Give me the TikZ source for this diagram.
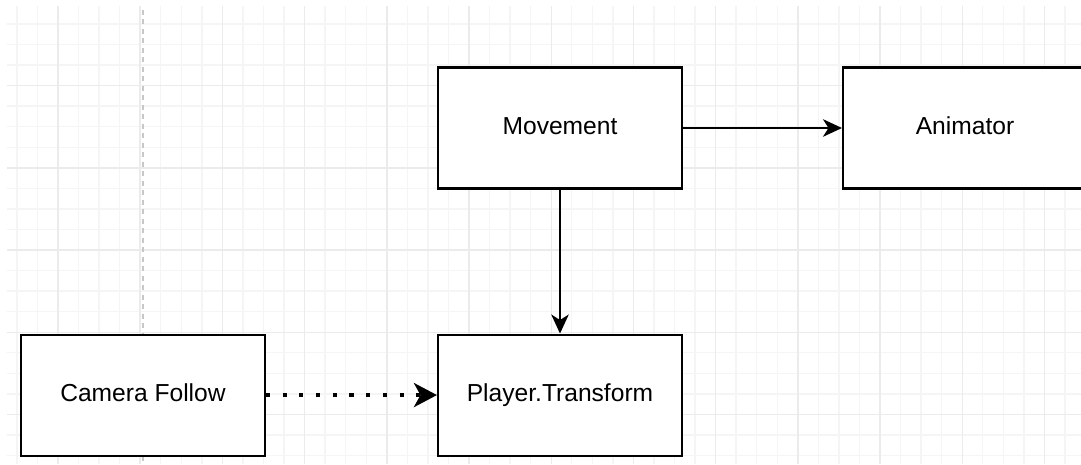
\documentclass[tikz,border=0pt]{standalone}
\usepackage{fontspec}
\setmainfont{Liberation Sans}
\usetikzlibrary{arrows.meta, positioning}

\begin{document}
\begin{tikzpicture}[
    x=0.02cm, y=-0.02cm,
    node distance=3cm and 3cm,
    mybox/.style={draw, line width=1.2pt, fill=white, minimum width=4.88cm, minimum height=2.42cm, text height=0.72em, text depth=0pt, font=\fontsize{14}{16}\selectfont},
    myarrow/.style={-{Stealth[length=3.8mm, width=3.5mm, inset=1.1mm]}, line width=1.1pt},
    mydots/.style={-{Stealth[length=4.6mm, width=4.8mm, inset=1.3mm]}, line width=2.3pt, dash pattern=on 2.3pt off 7.2pt},
    gridminor/.style={draw=black!4, line width=0.8pt},
    gridmajor/.style={draw=black!8, line width=0.8pt},
    guide/.style={draw=black!22, line width=1.1pt, dash pattern=on 2.8pt off 2.6pt},
]

\useasboundingbox (0,0) rectangle (1081,464);
\fill[white] (0,0) rectangle (1081,464);

% Grid
\foreach \k in {-2,...,49}
    \draw[gridminor] ({58+20.55*\k},6) -- ({58+20.55*\k},464);
\foreach \k in {-11,...,10}
    \draw[gridminor] (7,{250+20.55*\k}) -- (1081,{250+20.55*\k});
\foreach \k in {0,4,...,48}
    \draw[gridmajor] ({58+20.55*\k},6) -- ({58+20.55*\k},464);
\foreach \k in {-8,-4,0,4,8}
    \draw[gridmajor] (7,{250+20.55*\k}) -- (1081,{250+20.55*\k});
\draw[guide] (143,10) -- (143,464);

% Nodes
\node[mybox] (movement) at (560,128) {Movement};
\node[mybox, right=3.18cm of movement] (animator) {Animator};
\node[mybox, below=2.88cm of movement] (player) {Player.Transform};
\node[mybox, left=3.42cm of player] (camera) {Camera Follow};

% Arrows
\draw[myarrow] (movement) -- (animator);
\draw[myarrow] (movement) -- (player);
\draw[mydots] (camera) -- (player);

\end{tikzpicture}
\end{document}
